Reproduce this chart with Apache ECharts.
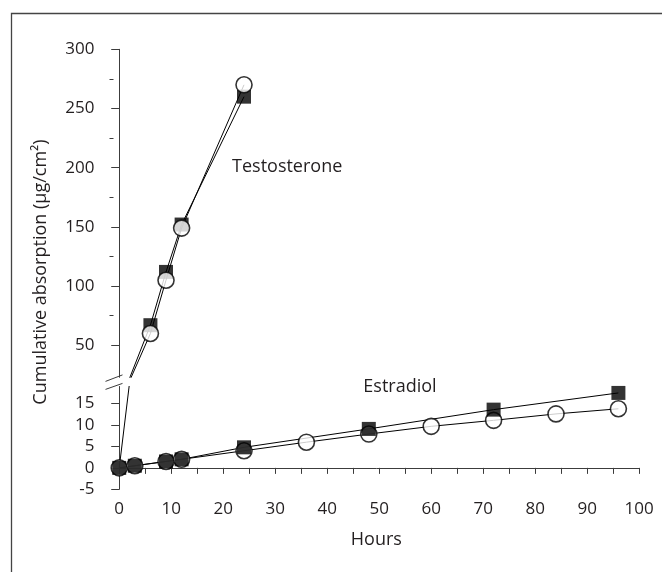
<!DOCTYPE html>
<html>
<head>
<meta charset="utf-8">
<script src="https://cdn.jsdelivr.net/npm/echarts@6/dist/echarts.min.js"></script>
<style>
  html, body { margin: 0; padding: 0; background: #fff; }
  #chart { width: 662px; height: 572px; }
</style>
</head>
<body>
<div id="chart"></div>
<script>
// Time points (hours) and cumulative absorption (µg/cm²)
const testoHours = [0, 6, 9, 12, 24];
const testoSquare = [0, 67, 112, 152, 260];
const testoCircle = [0, 60, 105, 149, 270];

const estSquareHours = [0, 3, 9, 12, 24, 48, 72, 96];
const estSquare = [0, 0.5, 1.5, 2.0, 4.8, 9.1, 13.6, 17.5];
const estCircleHours = [0, 3, 9, 12, 24, 36, 48, 60, 72, 84, 96];
const estCircle = [0, 0.5, 1.5, 2.0, 4.0, 6.0, 7.9, 9.7, 11.1, 12.6, 13.8];

// Axis ticks and labels
const xTicks = [0, 5, 10, 15, 20, 25, 30, 35, 40, 45, 50, 55, 60, 65, 70, 75, 80, 85, 90, 95, 100];
const xLabels = [0, 10, 20, 30, 40, 50, 60, 70, 80, 90, 100];
const upperLabels = [50, 100, 150, 200, 250, 300];
const upperMinor = [75, 125, 175, 225, 275];
const lowerLabels = [-5, 0, 5, 10, 15];

const INK = '#231f20';
const AXIS = '#3c3c3c';
const FONT = 'Open Sans';

const pairs = (xs, ys) => xs.map((x, i) => [x, ys[i]]);

const gridLeft = 113.5, gridWidth = 525.7;

const chart = echarts.init(document.getElementById('chart'), null, { renderer: 'canvas' });

const xBase = {
  type: 'value', min: -1.1, max: 100,
  splitLine: { show: false },
  axisLine: { lineStyle: { color: AXIS, width: 1 } }
};

const yBase = {
  type: 'value', position: 'left',
  splitLine: { show: false },
  axisLine: { show: true, lineStyle: { color: AXIS, width: 1 } },
  axisTick: { show: true, inside: false, length: 8, lineStyle: { color: AXIS } },
  axisLabel: { color: INK, fontFamily: FONT, fontSize: 17, margin: 19 }
};

const lineStyle = { color: '#000', width: 1 };
const circleStyle = { color: '#fff', borderColor: '#000', borderWidth: 1.6 };
const squareStyle = { color: '#000' };

chart.setOption({
  animation: false,
  backgroundColor: '#fff',
  grid: [
    { left: gridLeft, width: gridWidth, top: 49.3, height: 328, outerBoundsMode: 'none' },
    { left: gridLeft, width: gridWidth, top: 386.5, height: 102.8, outerBoundsMode: 'none' }
  ],
  xAxis: [
    Object.assign({}, xBase, {
      gridIndex: 0, show: false
    }),
    Object.assign({}, xBase, {
      gridIndex: 1,
      axisTick: { show: true, length: 6, customValues: xTicks, lineStyle: { color: AXIS } },
      axisLabel: { color: INK, fontFamily: FONT, fontSize: 17, margin: 11, customValues: xLabels },
      name: 'Hours', nameLocation: 'middle', nameGap: 42,
      nameTextStyle: { color: INK, fontFamily: FONT, fontSize: 18 }
    })
  ],
  yAxis: [
    Object.assign({}, yBase, {
      gridIndex: 0, min: 23, max: 300,
      axisTick: Object.assign({}, yBase.axisTick, { customValues: upperLabels }),
      axisLabel: Object.assign({}, yBase.axisLabel, { customValues: upperLabels })
    }),
    {
      type: 'value', gridIndex: 0, min: 23, max: 300, position: 'left', offset: 0,
      splitLine: { show: false },
      axisLine: { show: false },
      axisLabel: { show: false },
      axisTick: { show: true, length: 4, customValues: upperMinor, lineStyle: { color: AXIS } }
    },
    Object.assign({}, yBase, {
      gridIndex: 1, min: -5, max: 19,
      axisTick: Object.assign({}, yBase.axisTick, { customValues: lowerLabels }),
      axisLabel: Object.assign({}, yBase.axisLabel, { customValues: lowerLabels })
    })
  ],
  series: [
    // Testosterone, upper panel
    { type: 'line', xAxisIndex: 0, yAxisIndex: 0, data: pairs(testoHours, testoSquare),
      showSymbol: false, lineStyle, z: 2, clip: true },
    { type: 'line', xAxisIndex: 0, yAxisIndex: 0, data: pairs(testoHours, testoCircle),
      showSymbol: false, lineStyle, z: 2, clip: true },
    { type: 'scatter', xAxisIndex: 0, yAxisIndex: 0, data: pairs(testoHours, testoSquare).slice(1),
      symbol: 'rect', symbolSize: 14, itemStyle: squareStyle, z: 3 },
    { type: 'scatter', xAxisIndex: 0, yAxisIndex: 0, data: pairs(testoHours, testoCircle).slice(1),
      symbol: 'circle', symbolSize: 16, itemStyle: circleStyle, z: 4 },
    // Testosterone rise through the lower panel
    { type: 'line', xAxisIndex: 1, yAxisIndex: 2, data: pairs(testoHours, testoCircle),
      showSymbol: false, lineStyle, z: 2, clip: true },
    // Estradiol, lower panel
    { type: 'line', xAxisIndex: 1, yAxisIndex: 2, data: pairs(estCircleHours, estCircle),
      showSymbol: false, lineStyle, z: 2 },
    { type: 'line', xAxisIndex: 1, yAxisIndex: 2, data: pairs(estSquareHours, estSquare),
      showSymbol: false, lineStyle, z: 2 },
    { type: 'scatter', xAxisIndex: 1, yAxisIndex: 2, data: pairs(estCircleHours, estCircle),
      symbol: 'circle', symbolSize: 16, itemStyle: circleStyle, z: 3 },
    { type: 'scatter', xAxisIndex: 1, yAxisIndex: 2, data: pairs(estSquareHours, estSquare),
      symbol: 'rect', symbolSize: 14, itemStyle: squareStyle, z: 4 }
  ]
});

// Annotations, axis title, break marks and frame
const axisX = chart.convertToPixel({ xAxisIndex: 1 }, -1.1);
const upperBottom = chart.convertToPixel({ yAxisIndex: 0 }, 23);
const lowerTop = chart.convertToPixel({ yAxisIndex: 2 }, 19);
const midY = (upperBottom + lowerTop) / 2;
const testoPos = chart.convertToPixel({ xAxisIndex: 0, yAxisIndex: 0 }, [32.3, 200.6]);
const estPos = chart.convertToPixel({ xAxisIndex: 1, yAxisIndex: 2 }, [54.0, 19.0]);
const labelFont = '18px "Open Sans"';

chart.setOption({
  graphic: [
    { type: 'rect', left: 9, top: 11, shape: { x: 0, y: 0, width: 720, height: 640 },
      style: { fill: 'none', stroke: '#444', lineWidth: 1.3 }, silent: true },
    { type: 'text', x: testoPos[0], y: testoPos[1],
      style: { text: 'Testosterone', fill: INK, font: labelFont, align: 'center', verticalAlign: 'middle' } },
    { type: 'text', x: estPos[0], y: estPos[1],
      style: { text: 'Estradiol', fill: INK, font: labelFont, align: 'center', verticalAlign: 'middle' } },
    { type: 'text', x: 41, y: 272, rotation: Math.PI / 2,
      style: { text: 'Cumulative absorption (µg/cm²)', fill: INK, font: labelFont, align: 'center', verticalAlign: 'middle' } },
    { type: 'line', shape: { x1: axisX - 8, y1: midY - 0.5, x2: axisX + 9, y2: midY - 7 },
      style: { stroke: AXIS, lineWidth: 1 } },
    { type: 'line', shape: { x1: axisX - 8, y1: midY + 7.5, x2: axisX + 9, y2: midY + 1.5 },
      style: { stroke: AXIS, lineWidth: 1 } }
  ]
});
</script>
</body>
</html>
